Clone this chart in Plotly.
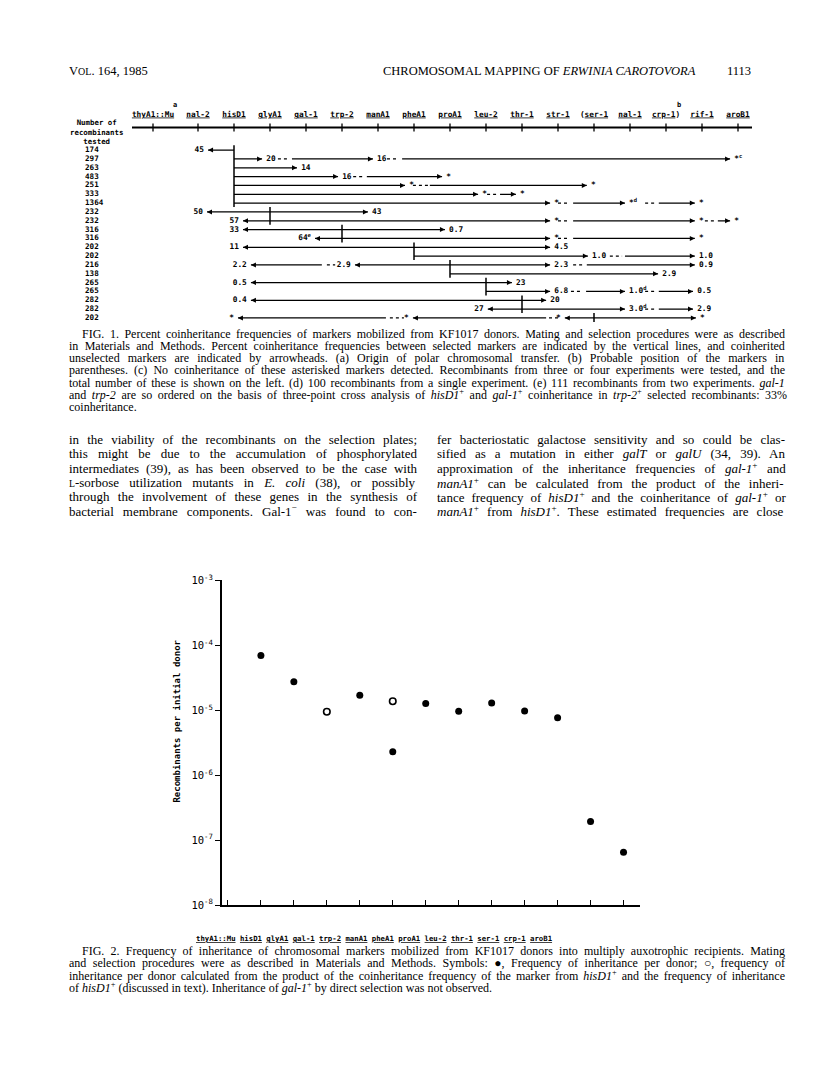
import re
import plotly.graph_objects as go

W, H = 816, 1075
SERIF = 'Liberation Serif'
MONO = 'DejaVu Sans Mono'

# ---------------- Fig. 1: coinheritance map ----------------
MAP_MARKERS = ['thyA1::Mu', 'nal-2', 'hisD1', 'glyA1', 'gal-1', 'trp-2', 'manA1',
               'pheA1', 'proA1', 'leu-2', 'thr-1', 'str-1', '(ser-1', 'nal-1',
               'crp-1)', 'rif-1', 'aroB1']
MAP_POS = [-0.25] + list(range(1, 17))
RECOMBINANTS_TESTED = [174, 297, 263, 483, 251, 333, 1364, 232, 232, 316,
                       316, 202, 202, 216, 138, 265, 265, 282, 282, 202]

# (map position of selected marker, first row, last row)
SELECTED = [(2, 1, 7), (3, 8, 9), (5, 10, 11), (7, 12, 13), (8, 14, 15),
            (9, 16, 17), (10, 18, 19), (12, 20, 20)]

# (row, from, to) in map positions
SOLID = [
    (1, 1.28, 2),
    (2, 2, 2.78), (2, 3.61, 5.86), (2, 6.67, 15.78),
    (3, 2, 3.75),
    (4, 2, 4.89), (4, 5.69, 7.78),
    (5, 2, 6.75), (5, 7.44, 11.8),
    (6, 2, 8.78), (6, 9.39, 9.83),
    (7, 2, 10.78), (7, 11.42, 12.86), (7, 13.8, 14.8),
    (8, 1.25, 5.72),
    (9, 2.25, 10.78), (9, 11.42, 14.8), (9, 15.44, 15.78),
    (10, 2.25, 7.86),
    (11, 4.25, 10.78), (11, 11.42, 14.8),
    (12, 2.25, 10.78),
    (13, 7, 11.83), (13, 12.86, 14.8),
    (14, 2.47, 4.44), (14, 5.36, 10.78), (14, 11.8, 14.8),
    (15, 8, 13.78),
    (16, 2.47, 9.72),
    (17, 9, 10.78), (17, 11.78, 12.86), (17, 13.8, 14.75),
    (18, 2.47, 10.67),
    (19, 9.05, 12.86), (19, 13.8, 14.75),
    (20, 2.11, 6.22), (20, 6.97, 10.67), (20, 11.19, 14.83),
]
DASHED = [
    (2, 3.22, 3.5), (2, 6.25, 6.53),
    (4, 5.31, 5.58),
    (5, 6.97, 7.39),
    (6, 9.03, 9.33),
    (7, 11.0, 11.3), (7, 13.42, 13.69),
    (9, 11.0, 11.3), (9, 15.08, 15.4),
    (11, 11.0, 11.3),
    (13, 12.44, 12.78),
    (14, 4.58, 4.81), (14, 11.42, 11.69),
    (17, 11.36, 11.67), (17, 13.42, 13.69),
    (19, 13.42, 13.69),
    (20, 6.33, 6.72), (20, 10.75, 11.06),
]
# (row, arrow tip, label)
HEAD_RIGHT = [
    (2, 2.78, '20'), (2, 5.86, '16'), (2, 15.78, '*<sup>c</sup>'),
    (3, 3.75, '14'),
    (4, 4.89, '16'), (4, 7.78, '*'),
    (5, 6.75, '*'), (5, 11.8, '*'),
    (6, 8.78, '*'), (6, 9.83, '*'),
    (7, 10.78, '*'), (7, 12.86, '*<sup>d</sup>'), (7, 14.8, '*'),
    (8, 5.72, '43'),
    (9, 10.78, '*'), (9, 14.8, '*'), (9, 15.78, '*'),
    (10, 7.86, '0.7'),
    (11, 10.78, '*'), (11, 14.8, '*'),
    (12, 10.78, '4.5'),
    (13, 11.83, '1.0'), (13, 14.8, '1.0'),
    (14, 10.78, '2.3'), (14, 14.8, '0.9'),
    (15, 13.78, '2.9'),
    (16, 9.72, '23'),
    (17, 10.78, '6.8'), (17, 12.86, '1.0<sup>d</sup>'), (17, 14.75, '0.5'),
    (18, 10.67, '20'),
    (19, 12.86, '3.0<sup>d</sup>'), (19, 14.75, '2.9'),
    (20, 14.83, '*'),
]
HEAD_LEFT = [
    (1, 1.28, '45'), (8, 1.25, '50'), (9, 2.25, '57'), (10, 2.25, '33'),
    (11, 4.25, '64<sup>e</sup>'), (12, 2.25, '11'), (14, 2.47, '2.2'),
    (14, 5.36, '2.9'), (16, 2.47, '0.5'), (18, 2.47, '0.4'), (19, 9.05, '27'),
    (20, 2.11, '*'), (20, 6.97, '*'), (20, 11.19, '*'),
]

# ---------------- Fig. 2: inheritance frequencies ----------------
FIG2_MARKERS = ['thyA1::Mu', 'hisD1', 'glyA1', 'gal-1', 'trp-2', 'manA1', 'pheA1',
                'proA1', 'leu-2', 'thr-1', 'ser-1', 'crp-1', 'aroB1']
FREQ_DIRECT = [None, 7.0e-5, 2.75e-5, None, 1.7e-5, 2.3e-6, 1.27e-5,
               9.7e-6, 1.3e-5, 9.8e-6, 7.7e-6, 1.95e-7, 6.5e-8]
FREQ_CALC = [None, None, None, 9.5e-6, None, 1.38e-5, None,
             None, None, None, None, None, None]
DECADES = [-8, -7, -6, -5, -4, -3]

# ---------------- page text ----------------
CAPTION1 = [
    'FIG. 1. Percent coinheritance frequencies of markers mobilized from KF1017 donors. Mating and selection procedures were as described',
    'in Materials and Methods. Percent coinheritance frequencies between selected markers are indicated by the vertical lines, and coinherited',
    'unselected markers are indicated by arrowheads. (a) Origin of polar chromosomal transfer. (b) Probable position of the markers in',
    'parentheses. (c) No coinheritance of these asterisked markers detected. Recombinants from three or four experiments were tested, and the',
    'total number of these is shown on the left. (d) 100 recombinants from a single experiment. (e) 111 recombinants from two experiments. <i>gal-1</i>',
    'and <i>trp-2</i> are so ordered on the basis of three-point cross analysis of <i>hisD1</i><sup>+</sup> and <i>gal-1</i><sup>+</sup> coinheritance in <i>trp-2</i><sup>+</sup> selected recombinants: 33%',
    'coinheritance.',
]
BODY_LEFT = [
    'in the viability of the recombinants on the selection plates;',
    'this might be due to the accumulation of phosphorylated',
    'intermediates (39), as has been observed to be the case with',
    '<span style="font-size:75%">L</span>-sorbose utilization mutants in <i>E. coli</i> (38), or possibly',
    'through the involvement of these genes in the synthesis of',
    'bacterial membrane components. Gal-1<sup>\u2212</sup> was found to con-',
]
BODY_RIGHT = [
    'fer bacteriostatic galactose sensitivity and so could be clas-',
    'sified as a mutation in either <i>galT</i> or <i>galU</i> (34, 39). An',
    'approximation of the inheritance frequencies of <i>gal-1</i><sup>+</sup> and',
    '<i>manA1</i><sup>+</sup> can be calculated from the product of the inheri-',
    'tance frequency of <i>hisD1</i><sup>+</sup> and the coinheritance of <i>gal-1</i><sup>+</sup> or',
    '<i>manA1</i><sup>+</sup> from <i>hisD1</i><sup>+</sup>. These estimated frequencies are close',
]
CAPTION2 = [
    'FIG. 2. Frequency of inheritance of chromosomal markers mobilized from KF1017 donors into multiply auxotrophic recipients. Mating',
    'and selection procedures were as described in Materials and Methods. Symbols: \u25cf, Frequency of inheritance per donor; \u25cb, frequency of',
    'inheritance per donor calculated from the product of the coinheritance frequency of the marker from <i>hisD1</i><sup>+</sup> and the frequency of inheritance',
    'of <i>hisD1</i><sup>+</sup> (discussed in text). Inheritance of <i>gal-1</i><sup>+</sup> by direct selection was not observed.',
]

# Times advance widths (1/1000 em), only used to justify the text lines
TIMES_W = {' ': 250, '.': 250, ',': 250, ':': 278, ';': 278, '-': 333, '(': 333,
           ')': 333, '%': 833, '+': 564, '\u2212': 564, '\u25cf': 600, '\u25cb': 600,
           'a': 444, 'b': 500, 'c': 444, 'd': 500, 'e': 444, 'f': 333, 'g': 500,
           'h': 500, 'i': 278, 'j': 278, 'k': 500, 'l': 278, 'm': 778, 'n': 500,
           'o': 500, 'p': 500, 'q': 500, 'r': 333, 's': 389, 't': 278, 'u': 500,
           'v': 500, 'w': 722, 'x': 500, 'y': 500, 'z': 444,
           'A': 722, 'B': 667, 'C': 667, 'D': 722, 'E': 611, 'F': 556, 'G': 722,
           'H': 722, 'I': 333, 'J': 389, 'K': 722, 'L': 611, 'M': 889, 'N': 722,
           'O': 722, 'P': 556, 'Q': 722, 'R': 667, 'S': 556, 'T': 611, 'U': 722,
           'V': 722, 'W': 944, 'X': 722, 'Y': 722, 'Z': 611}


def fx(p):
    return p / W


def fy(p):
    return 1 - p / H


ROW_PITCH = 8.95


def u_at(p):
    # pixel -> map position on Fig. 1
    return (p - 162) / 36


def row_at(p):
    # pixel -> row number on Fig. 1
    return (p - 144) / ROW_PITCH + 1


def line_width(line, size):
    width = 0
    for part in re.split(r'(<sup>.*?</sup>)', line):
        scale = 0.7 if part.startswith('<sup>') else 1.0
        plain = re.sub(r'<[^>]+>', '', part)
        width += sum(TIMES_W.get(c, 500) for c in plain) * size * scale / 1000
    return width


def justified(line, size, target):
    gaps = re.sub(r'<[^>]+>', '', line).count(' ')
    extra = (target - line_width(line, size)) / max(gaps, 1)
    return '<span style="word-spacing:%.2fpx">%s</span>' % (extra, line)


def underlined(m):
    # parentheses of the bracketed markers stay outside the underline
    if m.startswith('('):
        return '(<u>%s</u>' % m[1:]
    if m.endswith(')'):
        return '<u>%s</u>)' % m[:-1]
    return '<u>%s</u>' % m


fig = go.Figure()

# ---- Fig. 1 traces ----
axis_r = row_at(121)
fig.add_trace(go.Scatter(x=[u_at(132), u_at(752)], y=[axis_r, axis_r], mode='lines',
                         line=dict(color='black', width=2), xaxis='x', yaxis='y'))
tx, ty = [], []
for p in MAP_POS:
    tx += [p, p, None]
    ty += [axis_r - 0.45, axis_r + 0.45, None]
fig.add_trace(go.Scatter(x=tx, y=ty, mode='lines', line=dict(color='black', width=1.3),
                         xaxis='x', yaxis='y'))
fig.add_trace(go.Scatter(x=MAP_POS, y=[row_at(108)] * len(MAP_POS), mode='text',
                         text=[underlined(m) for m in MAP_MARKERS],
                         textfont=dict(family=MONO, size=7.8, color='black', weight='bold'),
                         xaxis='x', yaxis='y'))

sx, sy = [], []
for r, a, b in SOLID:
    sx += [a, b, None]
    sy += [r, r, None]
fig.add_trace(go.Scatter(x=sx, y=sy, mode='lines', line=dict(color='black', width=1.2),
                         xaxis='x', yaxis='y'))
dx, dy = [], []
for r, a, b in DASHED:
    dx += [a, b, None]
    dy += [r, r, None]
fig.add_trace(go.Scatter(x=dx, y=dy, mode='lines',
                         line=dict(color='black', width=1.2, dash='3px,3px'),
                         xaxis='x', yaxis='y'))
vx, vy = [], []
for p, r0, r1 in SELECTED:
    vx += [p, p, None]
    vy += [r0 - 0.55, r1 + 0.45, None]
fig.add_trace(go.Scatter(x=vx, y=vy, mode='lines', line=dict(color='black', width=1.5),
                         xaxis='x', yaxis='y'))

fig.add_trace(go.Scatter(
    x=[h[1] for h in HEAD_RIGHT], y=[h[0] for h in HEAD_RIGHT], mode='markers+text',
    text=[h[2] for h in HEAD_RIGHT], textposition='middle right',
    marker=dict(symbol='arrow-right', size=5, color='black'),
    textfont=dict(family=MONO, size=7.8, color='black', weight='bold'),
    xaxis='x', yaxis='y'))
fig.add_trace(go.Scatter(
    x=[h[1] for h in HEAD_LEFT], y=[h[0] for h in HEAD_LEFT], mode='markers+text',
    text=[h[2] for h in HEAD_LEFT], textposition='middle left',
    marker=dict(symbol='arrow-left', size=5, color='black'),
    textfont=dict(family=MONO, size=7.8, color='black', weight='bold'),
    xaxis='x', yaxis='y'))
fig.add_trace(go.Scatter(
    x=[u_at(85)] * len(RECOMBINANTS_TESTED), y=list(range(1, 21)), mode='text',
    text=[str(n) for n in RECOMBINANTS_TESTED], textposition='middle right',
    textfont=dict(family=MONO, size=7.6, color='black', weight='bold'),
    xaxis='x', yaxis='y'))

# ---- Fig. 2 traces ----
xs = list(range(len(FIG2_MARKERS)))
fig.add_trace(go.Scatter(x=xs, y=FREQ_DIRECT, mode='markers',
                         marker=dict(symbol='circle', size=7, color='black'),
                         xaxis='x2', yaxis='y2'))
fig.add_trace(go.Scatter(x=xs, y=FREQ_CALC, mode='markers',
                         marker=dict(symbol='circle-open', size=6.5, color='black',
                                     line=dict(width=1.6)),
                         xaxis='x2', yaxis='y2'))

fig.update_layout(
    width=W, height=H, margin=dict(l=0, r=0, t=0, b=0),
    paper_bgcolor='white', plot_bgcolor='white', showlegend=False,
    xaxis=dict(domain=[fx(60), fx(790)], range=[u_at(60), u_at(790)], visible=False),
    yaxis=dict(domain=[fy(330), fy(85)], range=[row_at(330), row_at(85)], visible=False),
    xaxis2=dict(domain=[fx(222), fx(640)], range=[-0.18, 12.5], anchor='y2',
                showgrid=False, zeroline=False, showline=True, linewidth=2, linecolor='black',
                ticks='inside', ticklen=5, tickwidth=1.3, tickcolor='black',
                tickvals=xs, showticklabels=False),
    yaxis2=dict(domain=[fy(909), fy(580)], type='log', range=[-8, -3], anchor='x2',
                showgrid=False, zeroline=False, showline=True, linewidth=2, linecolor='black',
                ticks='outside', ticklen=5, tickwidth=1.3, tickcolor='black',
                tickvals=[10 ** d for d in DECADES],
                ticktext=['10<sup>%d</sup>' % d for d in DECADES],
                tickfont=dict(family=MONO, size=10.5, color='black')),
)

ann = []


def text(x, y, s, size, family=SERIF, anchor='left', **kw):
    ann.append(dict(x=fx(x), y=fy(y), xref='paper', yref='paper', text=s, showarrow=False,
                    xanchor=anchor, yanchor='middle',
                    font=dict(family=family, size=size, color='black'), **kw))


LEFT, RIGHT, INDENT = 67, 783, 13
COL = (RIGHT - LEFT - 20) / 2

# running head
text(LEFT, 64, 'V<span style="font-size:80%">OL</span>. 164, 1985', 12.5)
text(539, 64, 'CHROMOSOMAL MAPPING OF <i>ERWINIA CAROTOVORA</i>', 12.5, anchor='center')
text(753, 64, '1113', 12.5, anchor='right')

# Fig. 1 furniture
text(175, 98, '<b>a</b>', 7, family=MONO, anchor='center')
text(679, 98, '<b>b</b>', 7, family=MONO, anchor='center')
text(96, 126, '<b>Number of<br>recombinants<br>tested</b>', 7.4, family=MONO, anchor='center')

for i, line in enumerate(CAPTION1):
    x0 = LEFT + (INDENT if i == 0 else 0)
    s = line if i == len(CAPTION1) - 1 else justified(line, 12, RIGHT - x0)
    text(x0, 330 + 12.4 * i, s, 12)
for i, line in enumerate(BODY_LEFT):
    text(LEFT, 437 + 14.6 * i, justified(line, 13, COL), 13)
for i, line in enumerate(BODY_RIGHT):
    text(RIGHT - COL, 437 + 14.6 * i, justified(line, 13, COL), 13)

# Fig. 2 furniture: axis title, typed marker line, caption
text(177, 723, '<b>Recombinants per initial donor</b>', 9, family=MONO, anchor='center',
     textangle=-90)
text(194, 943, '<b>' + ' '.join(underlined(m) for m in FIG2_MARKERS) + '</b>', 7.3,
     family=MONO)
for i, line in enumerate(CAPTION2):
    x0 = LEFT + (INDENT if i == 0 else 0)
    s = line if i == len(CAPTION2) - 1 else justified(line, 12, RIGHT - x0)
    text(x0, 955 + 12.4 * i, s, 12)

fig.update_layout(annotations=ann)

fig.write_html('out.html', config=dict(displayModeBar=False),
               post_script="document.body.style.margin='0';document.body.style.overflow='hidden';")
